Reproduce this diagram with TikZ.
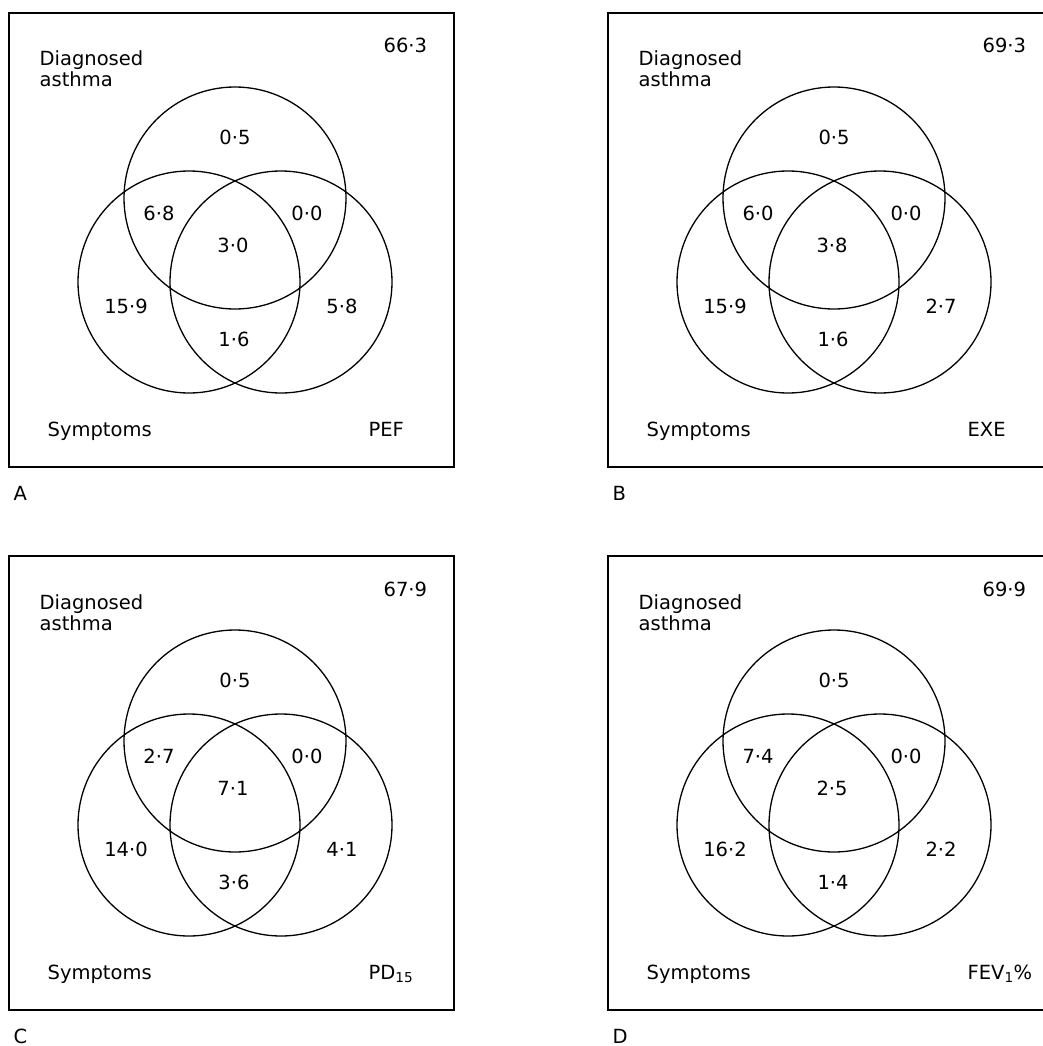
\documentclass[tikz,border=0pt]{standalone}
\usepackage{fontspec}
\setmainfont{DejaVu Sans}
\usepackage{tikz}

\begin{document}
\begin{tikzpicture}[x=1pt, y=-1pt, line width=1.3pt,
    every node/.style={inner sep=0pt, font=\fontsize{19.5}{21}\selectfont},
    ring/.style={draw, circle, minimum size=222pt},
    frame/.style={draw, line width=1.8pt, minimum width=445pt, minimum height=454pt}]
  \useasboundingbox (0,0) rectangle (1043,1046);
  \foreach \dx/\dy/\pan/\tot/\vTop/\vTL/\vTR/\vMid/\vL/\vR/\vBot/\meas in {
    0/0/A/66·3/0·5/6·8/0·0/3·0/15·9/5·8/1·6/PEF,
    599/0/B/69·3/0·5/6·0/0·0/3·8/15·9/2·7/1·6/EXE,
    0/543/C/67·9/0·5/2·7/0·0/7·1/14·0/4·1/3·6/PD\textsubscript{15},
    599/543/D/69·9/0·5/7·4/0·0/2·5/16·2/2·2/1·4/FEV\textsubscript{1}\%} {
      \node[frame, anchor=north west] (box\pan) at (\dx+8,\dy+12) {};
      \node[anchor=base west] (dg\pan) at (\dx+39,\dy+66) {Diagnosed};
      \node[anchor=base west] (as\pan) at (\dx+39,\dy+87) {asthma};
      \node[anchor=base west] (tot\pan) at (\dx+383,\dy+53) {\tot};
      \node[ring] (da\pan) at (\dx+235,\dy+198) {};
      \node[ring] (sy\pan) at (\dx+189,\dy+282) {};
      \node[ring] (ts\pan) at (\dx+281,\dy+282) {};
      \node (top\pan) at (\dx+235,\dy+137) {\vTop};
      \node (tl\pan) at (\dx+159,\dy+213) {\vTL};
      \node (tr\pan) at (\dx+307,\dy+213) {\vTR};
      \node (mid\pan) at (\dx+233,\dy+245) {\vMid};
      \node (lft\pan) at (\dx+126,\dy+306) {\vL};
      \node (rgt\pan) at (\dx+342,\dy+306) {\vR};
      \node (bot\pan) at (\dx+234,\dy+339) {\vBot};
      \node[anchor=base west] (sym\pan) at (\dx+47,\dy+436) {Symptoms};
      \node[anchor=base west] (me\pan) at (\dx+368,\dy+436) {\meas};
      \node[anchor=base west] (lab\pan) at (\dx+13,\dy+500) {\pan};
  }
\end{tikzpicture}
\end{document}
